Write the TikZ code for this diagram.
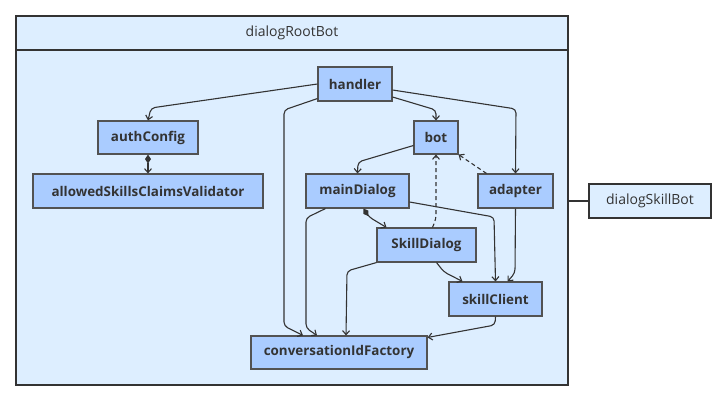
\documentclass[tikz,border=0pt]{standalone}
\usepackage{fontspec}
\setmainfont{Open Sans}
\usetikzlibrary{arrows.meta}
\definecolor{grpfill}{HTML}{DDEEFF}
\definecolor{clsfill}{HTML}{AACCFF}
\definecolor{edgecol}{HTML}{333333}
\tikzset{
  cls/.style={draw=edgecol!85, fill=clsfill, line width=1.1pt, inner sep=0pt, font=\fontsize{13.4}{16}\selectfont\bfseries, text=edgecol},
  grp/.style={draw=edgecol, fill=grpfill, line width=1.1pt, inner sep=0pt, font=\fontsize{14}{17}\selectfont, text=edgecol},
  useedge/.style={draw=edgecol, line width=1.1pt, rounded corners=4pt, -{Straight Barb[length=4pt,width=7pt]}},
  dashedge/.style={useedge, dash pattern=on 4pt off 3pt},
  ownedge/.style={useedge, {Diamond[length=9pt,width=6pt]}-{Straight Barb[length=4pt,width=7pt]}}
}
\begin{document}
\begin{tikzpicture}[x=1pt,y=-1pt]
            \useasboundingbox (0,0) rectangle (725,401);
            % container and the other bot
            \node[grp, minimum width=552, minimum height=369] (rootbot) at (292,200.5) {};
            \node[grp, minimum width=552, minimum height=34] (roothead) at (292,33) {dialogRootBot};
            \node[grp, minimum width=122, minimum height=34] (skillbot) at (650,201) {dialogSkillBot};
            \draw[edgecol, line width=1.1pt] (rootbot.east |- skillbot.west) -- (skillbot.west);

            \node[cls, minimum width=74, minimum height=34] (handler) at (355,84) {handler};
            \node[cls, minimum width=44, minimum height=33] (bot) at (436,137.5) {bot};
            \node[cls, minimum width=100, minimum height=33] (authcfg) at (148,137.5) {authConfig};
            \node[cls, minimum width=230, minimum height=34] (validator) at (148,191) {allowedSkillsClaimsValidator};
            \node[cls, minimum width=103, minimum height=34] (maindlg) at (357.5,191) {mainDialog};
            \node[cls, minimum width=75, minimum height=34] (adapter) at (515.5,191) {adapter};
            \node[cls, minimum width=99, minimum height=34] (skilldlg) at (426.5,245) {SkillDialog};
            \node[cls, minimum width=93, minimum height=34] (skillcl) at (495.5,299) {skillClient};
            \node[cls, minimum width=176, minimum height=33] (convid) at (339,352.5) {conversationIdFactory};

            \draw[useedge] (handler.west) -- (151,108) -- (authcfg.north);
            \draw[useedge] ([yshift=-13pt]handler.east) -- (436,110) -- (bot.north);
            \draw[useedge] ([yshift=-6pt]handler.east) -- (516,109) -- (adapter.north);
            \draw[useedge] ([yshift=3pt]handler.south west) -- (284,110) -- (284,326) -- ([xshift=-36pt]convid.north);
            \draw[ownedge] (authcfg.south) -- (validator.north);
            \draw[useedge] ([yshift=-8pt]bot.west) -- (358,162) -- (maindlg.north);
            \draw[dashedge] ([xshift=9pt]adapter.north west) -- (bot.south east);
            \draw[dashedge] ([xshift=6pt]skilldlg.north) -- (436,219) -- (bot.south);
            \draw[ownedge] ([xshift=6pt]maindlg.south) -- (369,217) -- ([xshift=-40pt]skilldlg.north);
            \draw[useedge] ([yshift=-11pt]maindlg.east) -- (494,217) -- (skillcl.north);
            \draw[useedge] ([xshift=-32pt]maindlg.south) -- (306,218) -- (306,328) -- ([xshift=-22pt]convid.north);
            \draw[useedge] (adapter.south) -- (515,273) -- ([xshift=12pt]skillcl.north);
            \draw[useedge] ([xshift=10pt]skilldlg.south) -- (444,272) -- ([xshift=-33pt]skillcl.north);
            \draw[useedge] (skilldlg.south west) -- (347,271) -- ([xshift=7pt]convid.north);
            \draw[useedge] (skillcl.south) -- (495,325) -- ([yshift=-2pt]convid.north east);
        \end{tikzpicture}
\end{document}
